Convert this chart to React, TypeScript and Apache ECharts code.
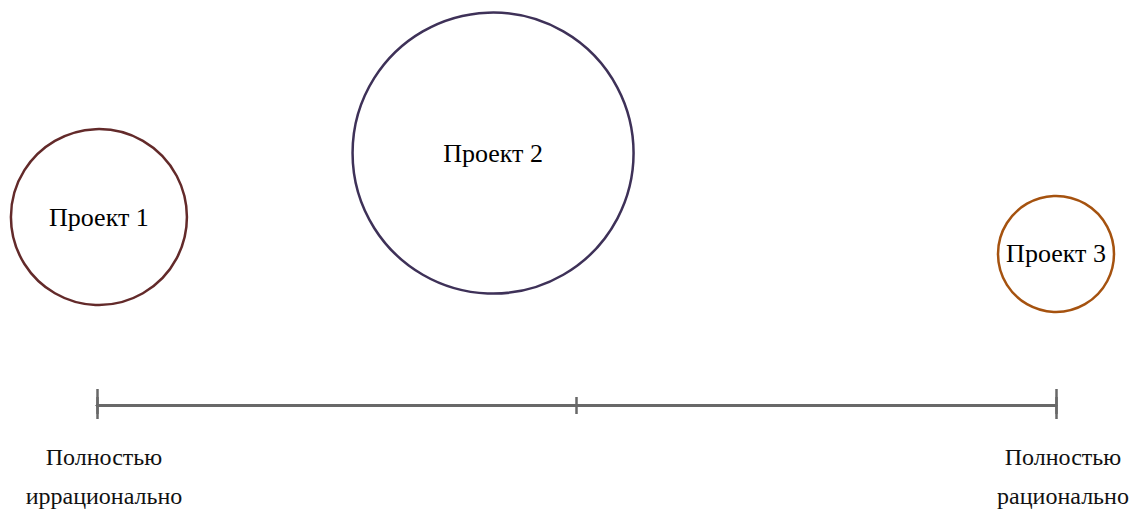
import React, { useEffect, useRef } from "react";
import * as echarts from "echarts";

const projectNames = ["Проект 1", "Проект 2", "Проект 3"];
const rationality = [0.002, 0.413, 1.0];
const heightValue = [4.64, 6.22, 3.73];
const bubbleDiameter = [176, 281, 116];
const projectColors = ["#632a2a", "#3e3158", "#a5520f"];
const axisTickLabels: Record<string, string> = {
  "0": "Полностью\nиррационально",
  "0.5": "",
  "1": "Полностью\nрационально",
};

const FONT = "Liberation Serif";
const AXIS_COLOR = "#686868";

export default function App() {
  const ref = useRef<HTMLDivElement>(null);
  useEffect(() => {
    document.body.style.margin = "0";
    if (!ref.current) return;
    const chart = echarts.init(ref.current, undefined, { renderer: "svg" });

    const makeAxis = (interval: number, inside: boolean, len: number, showLabel: boolean) => ({
      type: "value" as const,
      position: "bottom" as const,
      min: 0,
      max: 1,
      interval,
      axisLine: { show: true, lineStyle: { color: AXIS_COLOR, width: 2.5 } },
      axisTick: { show: true, inside, length: len, lineStyle: { color: AXIS_COLOR, width: 2.5 } },
      splitLine: { show: false },
      axisLabel: showLabel
        ? {
            show: true,
            margin: 32,
            fontFamily: FONT,
            fontSize: 24,
            lineHeight: 39,
            color: "#111",
            padding: [0, 0, 0, 14],
            formatter: (v: number) => axisTickLabels[String(v)] ?? "",
          }
        : { show: false },
    });

    const option = {
      animation: false,
      backgroundColor: "#ffffff",
      textStyle: { fontFamily: FONT },
      grid: { left: 97, right: 75, top: 0, bottom: 106, containLabel: false, outerBoundsMode: "none" },
      xAxis: [
        makeAxis(0.5, false, 9, true),
        makeAxis(0.5, true, 8, false),
        makeAxis(1, false, 14, false),
        makeAxis(1, true, 16, false),
      ],
      yAxis: { type: "value", min: 0, max: 10, show: false },
      series: [
        {
          type: "scatter",
          data: projectNames.map((name, i) => ({
            name,
            value: [rationality[i], heightValue[i]],
            symbolSize: bubbleDiameter[i],
            itemStyle: { color: "#ffffff", borderColor: projectColors[i], borderWidth: 2.5, opacity: 1 },
          })),
          symbol: "circle",
          itemStyle: { opacity: 1 },
          label: {
            show: true,
            position: "inside",
            formatter: (p: any) => p.name,
            fontFamily: FONT,
            fontSize: 26,
            color: "#000",
          },
          emphasis: { disabled: true },
        },
      ],
    };
    chart.setOption(option as any);
    return () => chart.dispose();
  }, []);
  return <div ref={ref} style={{ width: 1131, height: 511 }} />;
}
